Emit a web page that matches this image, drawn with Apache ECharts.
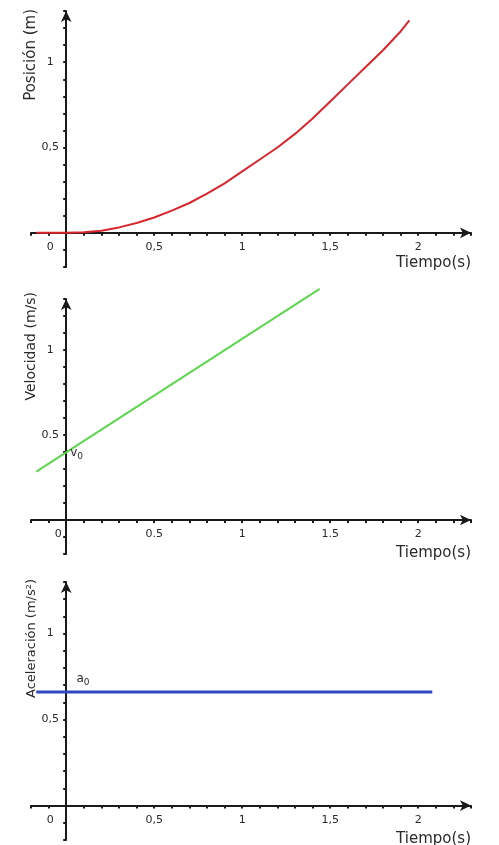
<!DOCTYPE html>
<html>
<head>
<meta charset="utf-8">
<script src="https://cdn.jsdelivr.net/npm/echarts@6/dist/echarts.min.js"></script>
<style>
html, body { margin: 0; padding: 0; background: #fff; }
#chart { width: 499px; height: 845px; }
</style>
</head>
<body>
<div id="chart"></div>
<script>
// posicion (m) frente a tiempo (s)
var posT = [-0.17, 0, 0.1, 0.2, 0.3, 0.4, 0.5, 0.6, 0.7, 0.8, 0.9, 1.0, 1.1, 1.2, 1.3, 1.4, 1.5, 1.6, 1.7, 1.8, 1.9, 1.95];
var posY = [0, 0, 0.003, 0.013, 0.032, 0.058, 0.09, 0.13, 0.175, 0.23, 0.29, 0.36, 0.43, 0.5, 0.58, 0.67, 0.77, 0.87, 0.97, 1.07, 1.18, 1.245];

// velocidad (m/s)
var velT = [-0.17, 1.44];
var velY = [0.285, 1.36];

// aceleracion (m/s2)
var accT = [-0.17, 2.08];
var accY = [0.66, 0.66];

// marcas de los ejes
var xTickVals = [0, 0.5, 1, 1.5, 2];
var xLabelsComma = ['0', '0,5', '1', '1,5', '2'];
var xLabelsDot = ['0', '0.5', '1', '1.5', '2'];
var yTickVals = [0.5, 1];
var yLabelsComma = ['0,5', '1'];
var yLabelsDot = ['0.5', '1'];

var yNames = ['Posición (m)', 'Velocidad (m/s)', 'Aceleración (m/s²)'];
var xName = 'Tiempo(s)';

var FONT = 'DejaVu Sans';
var AXIS_COLOR = '#1a1a1a';
var TEXT_COLOR = '#2a2a2a';

var X_MIN = -0.2, X_MAX = 2.3, Y_MIN = -0.2, Y_MAX = 1.3;
var GRID_W = 440;
var grids = [
    {left: 31, top: 11, height: 256, nameSize: 15, nameGap: 2, zeroPad: 32, tPad: 23},
    {left: 31, top: 299, height: 255, nameSize: 14, nameGap: 7, zeroPad: 16, tPad: 26},
    {left: 31, top: 582, height: 258, nameSize: 13, nameGap: 3, zeroPad: 32, tPad: 26}
];

function pairs(t, y) {
    var d = [];
    for (var i = 0; i < t.length; i++) {
        d.push([t[i], y[i]]);
    }
    return d;
}

function findTick(vals, v) {
    for (var i = 0; i < vals.length; i++) {
        if (Math.abs(vals[i] - v) < 1e-6) return i;
    }
    return -1;
}

// los ejes se cruzan en el origen: se desplazan hacia dentro de la rejilla
function makeX(idx, labels) {
    var g = grids[idx];
    var off = -g.height * (0 - Y_MIN) / (Y_MAX - Y_MIN);
    return {
        type: 'value', gridIndex: idx, position: 'bottom', offset: off,
        min: X_MIN, max: X_MAX, interval: 0.1,
        splitLine: {show: false},
        axisLine: {onZero: false, symbol: ['none', 'arrow'], symbolSize: [8, 11],
            lineStyle: {color: AXIS_COLOR, width: 2}},
        axisTick: {length: 3, lineStyle: {color: AXIS_COLOR, width: 2}},
        axisLabel: {
            margin: 9, color: TEXT_COLOR, fontFamily: FONT, fontSize: 11,
            formatter: function (v) {
                var i = findTick(xTickVals, v);
                if (i < 0) return '';
                if (i === 0) return '{z|' + labels[0] + '}';
                return labels[i];
            },
            rich: {z: {fontFamily: FONT, fontSize: 11, color: TEXT_COLOR, padding: [0, g.zeroPad, 0, 0]}}
        },
        name: xName, nameLocation: 'end', nameGap: 0,
        nameTextStyle: {fontFamily: FONT, fontSize: 15, color: TEXT_COLOR,
            align: 'right', verticalAlign: 'top', padding: [g.tPad, 0, 0, 0]}
    };
}

function makeY(idx, labels) {
    var off = -GRID_W * (0 - X_MIN) / (X_MAX - X_MIN);
    return {
        type: 'value', gridIndex: idx, position: 'left', offset: off,
        min: Y_MIN, max: Y_MAX, interval: 0.1,
        splitLine: {show: false},
        axisLine: {onZero: false, symbol: ['none', 'arrow'], symbolSize: [8, 11],
            lineStyle: {color: AXIS_COLOR, width: 2}},
        axisTick: {length: 3, lineStyle: {color: AXIS_COLOR, width: 2}},
        axisLabel: {
            margin: 16, align: 'center', color: TEXT_COLOR, fontFamily: FONT, fontSize: 11,
            formatter: function (v) {
                var i = findTick(yTickVals, v);
                return i < 0 ? '' : labels[i];
            }
        },
        name: yNames[idx], nameLocation: 'end', nameRotate: 90, nameGap: grids[idx].nameGap,
        nameTextStyle: {fontFamily: FONT, fontSize: grids[idx].nameSize, color: TEXT_COLOR,
            align: 'right', verticalAlign: 'bottom', padding: [0, 0, 28, 0]}
    };
}

var subRich = {
    b: {fontFamily: FONT, fontSize: 12, color: TEXT_COLOR},
    s: {fontFamily: FONT, fontSize: 9, color: TEXT_COLOR, padding: [7, 0, 0, 0]}
};

var option = {
    backgroundColor: '#fff',
    animation: false,
    grid: grids.map(function (g) {
        return {left: g.left, width: GRID_W, top: g.top, height: g.height,
            containLabel: false, outerBoundsMode: 'none'};
    }),
    xAxis: [makeX(0, xLabelsComma), makeX(1, xLabelsDot), makeX(2, xLabelsComma)],
    yAxis: [makeY(0, yLabelsComma), makeY(1, yLabelsDot), makeY(2, yLabelsComma)],
    series: [
        {
            type: 'line', xAxisIndex: 0, yAxisIndex: 0, clip: false,
            data: pairs(posT, posY), showSymbol: false, symbol: 'none',
            lineStyle: {color: '#d8262e', width: 2}
        },
        {
            type: 'line', xAxisIndex: 1, yAxisIndex: 1, clip: false,
            data: pairs(velT, velY), showSymbol: false, symbol: 'none',
            lineStyle: {color: '#5ed650', width: 2},
            markPoint: {
                symbol: 'circle', symbolSize: 0,
                data: [{coord: [0, 0.4]}],
                label: {show: true, position: 'right', distance: 4, offset: [0, 1],
                    formatter: '{b|v}{s|0}', rich: subRich}
            }
        },
        {
            type: 'line', xAxisIndex: 2, yAxisIndex: 2, clip: false,
            data: pairs(accT, accY), showSymbol: false, symbol: 'none',
            lineStyle: {color: '#3447c2', width: 3},
            markPoint: {
                symbol: 'circle', symbolSize: 0,
                data: [{coord: [0.05, 0.66]}],
                label: {show: true, position: 'top', distance: 5, offset: [8, 0],
                    formatter: '{b|a}{s|0}', rich: subRich}
            }
        }
    ]
};

var chart = echarts.init(document.getElementById('chart'));
chart.setOption(option);
</script>
</body>
</html>
